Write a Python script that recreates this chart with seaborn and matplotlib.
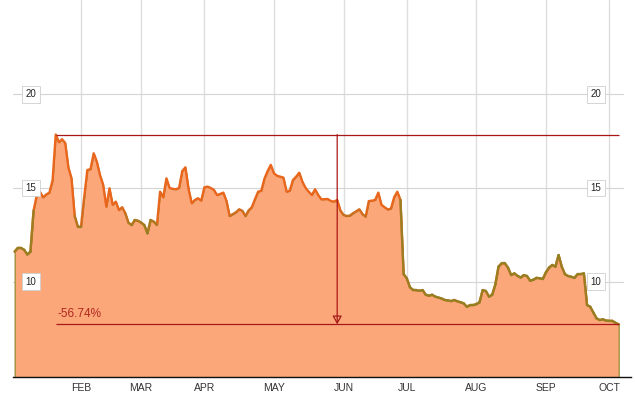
import numpy as np
import pandas as pd
import matplotlib
matplotlib.use("Agg")
import matplotlib.pyplot as plt
import seaborn as sns
from matplotlib.collections import LineCollection
from matplotlib.colors import to_rgba

# Trading calendar of the chart
START = "2013-01-02"
END = "2013-10-04"
HOLIDAYS = ["2013-01-21", "2013-02-18", "2013-03-29", "2013-05-27", "2013-07-04", "2013-09-02"]
MONTHS = ["FEB", "MAR", "APR", "MAY", "JUN", "JUL", "AUG", "SEP", "OCT"]
Y_LABELS = [10, 15, 20]

# Daily closes
prices = [
    11.6, 11.8, 11.8, 11.7, 11.45, 11.6, 13.8, 14.6, 14.8, 14.5,
    14.65, 14.75, 15.4, 17.85, 17.44, 17.6, 17.4, 16.1, 15.5, 13.5,
    12.93, 12.93, 14.5, 15.96, 16.0, 16.85, 16.4, 15.69, 15.16, 14.0,
    14.98, 14.1, 14.27, 13.82, 13.97, 13.65, 13.14, 13.02, 13.29, 13.25,
    13.15, 13.02, 12.58, 13.29, 13.2, 13.02, 14.8, 14.5, 15.51, 15.0,
    14.95, 14.93, 15.0, 15.9, 16.1, 14.95, 14.18, 14.36, 14.45, 14.32,
    15.03, 15.07, 15.0, 14.9, 14.62, 14.68, 14.75, 14.3, 13.5, 13.6,
    13.7, 13.86, 13.78, 13.5, 13.8, 13.97, 14.4, 14.8, 14.85, 15.5,
    15.9, 16.23, 15.78, 15.65, 15.6, 15.55, 14.8, 14.85, 15.42, 15.6,
    15.81, 15.33, 15.0, 14.8, 14.62, 14.93, 14.62, 14.39, 14.4, 14.41,
    14.3, 14.27, 14.36, 13.8, 13.56, 13.5, 13.52, 13.65, 13.75, 13.86,
    13.6, 13.47, 14.3, 14.32, 14.36, 14.75, 14.1, 13.97, 13.85, 13.9,
    14.5, 14.8, 14.36, 10.4, 10.18, 9.7, 9.55, 9.55, 9.51, 9.55,
    9.3, 9.25, 9.3, 9.2, 9.15, 9.1, 9.02, 9.0, 8.96, 9.02,
    8.95, 8.9, 8.84, 8.66, 8.75, 8.75, 8.8, 8.9, 9.55, 9.5,
    9.2, 9.3, 9.85, 10.8, 10.98, 10.98, 10.75, 10.35, 10.44, 10.31,
    10.22, 10.35, 10.3, 10.05, 10.1, 10.2, 10.18, 10.14, 10.5, 10.75,
    10.89, 10.8, 11.42, 10.8, 10.4, 10.3, 10.26, 10.2, 10.4, 10.4,
    10.44, 8.75, 8.66, 8.35, 8.04, 7.95, 7.99, 7.92, 7.91, 7.91,
    7.8, 7.722,
]

FILL = "#FBA77A"
ORANGE = "#EA661C"
OLIVE = "#8A8424"
RED = "#A81818"

days = pd.bdate_range(START, END, freq="C", holidays=HOLIDAYS)
df = pd.DataFrame({"day": np.arange(len(days)), "date": days, "price": prices})

sns.set_theme(style="white")
plt.rcParams["font.family"] = ["Liberation Sans", "DejaVu Sans"]

fig = plt.figure(figsize=(6.35, 4.01), dpi=100)
ax = fig.add_axes([13 / 635, 24 / 401, 618 / 635, 377 / 401])
y_bottom, y_top = 4.91, 25.03

# month grid
month_pos = df[df["date"].dt.month >= 2].groupby(df["date"].dt.month)["day"].min().values
for m in month_pos:
    ax.axvline(m, color="#dedede", lw=1, zorder=0)
for v in Y_LABELS:
    ax.axhline(v, xmax=0.987, color="#d4d4d4", lw=0.8, zorder=0)

# area + line
ax.fill_between(df["day"], df["price"], y_bottom, color=FILL, edgecolor=OLIVE, lw=0.8, zorder=1)
sns.lineplot(data=df, x="day", y="price", color=ORANGE, lw=1.7, ax=ax, zorder=3)

# low-price parts of the line drift towards olive
pts = df[["day", "price"]].values
segs = np.stack([pts[:-1], pts[1:]], axis=1)
mid_val = (pts[:-1, 1] + pts[1:, 1]) / 2
t = np.clip((14.0 - mid_val) / 1.5, 0, 0.8)
cols = [to_rgba(OLIVE, a) for a in t]
ax.add_collection(LineCollection(segs, colors=cols, lw=1.7, zorder=3.5, capstyle="round"))

# max-to-last drawdown marker
i_max = int(df["price"].idxmax())
i_last = len(df) - 1
p_max = df["price"].iloc[i_max]
p_last = df["price"].iloc[i_last]
ax.hlines([p_max, p_last], i_max, i_last, color=RED, lw=0.9, zorder=4)
mid = (i_max + i_last) / 2
ax.annotate("", xy=(mid, p_last), xytext=(mid, p_max),
            arrowprops=dict(arrowstyle="-|>,head_length=0.5,head_width=0.28",
                            ec=RED, fc="none", lw=0.9, shrinkA=0, shrinkB=0,
                            mutation_scale=10), zorder=4)
pct = (p_last / p_max - 1) * 100
ax.annotate(f"{pct:.2f}%", xy=(i_max, p_last), xytext=(1, 3), textcoords="offset points",
            ha="left", va="bottom", color="#B0281E", fontsize=8.5, zorder=5)

# boxed y labels on both sides
for v in Y_LABELS:
    for xa in (0.029, 0.943):
        ax.text(xa, v, str(v), transform=ax.get_yaxis_transform(), ha="center", va="center",
                fontsize=7, color="#222222", zorder=6,
                bbox=dict(boxstyle="square,pad=0.35", fc="white", ec="#cfcfcf", lw=0.6))

ax.set_xlim(-0.51, 194.9)
ax.set_ylim(y_bottom, y_top)
ax.set_xticks(month_pos, MONTHS)
ax.set_yticks([])
ax.tick_params(axis="x", length=0, pad=4, labelsize=7.5, labelcolor="#333333")
ax.set_xlabel("")
ax.set_ylabel("")
for s in ["left", "right", "top"]:
    ax.spines[s].set_visible(False)
ax.spines["bottom"].set_color("#111111")
ax.spines["bottom"].set_linewidth(1)
ax.set_facecolor("white")

fig.savefig("out.png", dpi=100)
